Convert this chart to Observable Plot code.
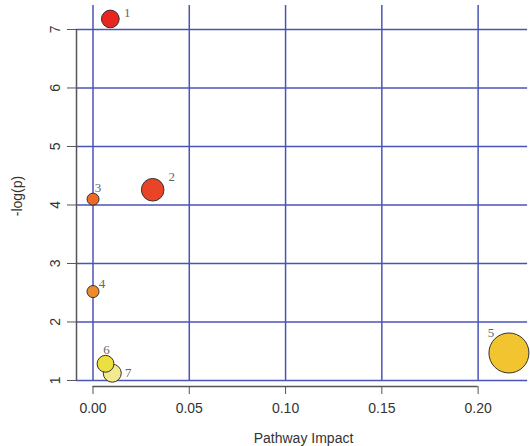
<!DOCTYPE html>
<html><head><meta charset="utf-8">
<script src="https://cdn.jsdelivr.net/npm/d3@7"></script>
<script src="https://cdn.jsdelivr.net/npm/@observablehq/plot@0.6"></script>
<style>body{margin:0;background:#fff}</style>
</head><body><div id="chart"></div>
<script>
// Data
const ids = ["1", "2", "3", "4", "5", "6", "7"];
const impact = [0.009, 0.031, 0.0, 0.0, 0.216, 0.0065, 0.010];
const negLogP = [7.18, 4.26, 4.10, 2.52, 1.47, 1.285, 1.125];
const colors = ["#e8261f", "#ea4428", "#ec6a26", "#ef8a2a", "#f2c530", "#ece040", "#f1ea8e"];
const xTicks = [0, 0.05, 0.10, 0.15, 0.20];
const yTicks = [1, 2, 3, 4, 5, 6, 7];

const data = ids.map((id, i) => ({id, impact: impact[i], p: negLogP[i], color: colors[i]}));

// label placement (style): offsets in px relative to point centre
const labelOffset = {"1": [17, -6], "2": [19, -13], "3": [5, -11], "4": [9, -8], "5": [-18, -20], "6": [1, -14], "7": [16, 0]};

const xMin = -0.00857, xMax = 0.2272, xGridEnd = 0.2257;
const yMin = 0.897, yMax = 7.41;
const grid = "#4a54b6";
const axisCol = "#555";

const labelMarks = ids.map(id => Plot.text(data.filter(d => d.id === id), {
  x: "impact", y: "p", text: "id",
  dx: labelOffset[id][0], dy: labelOffset[id][1],
  fill: "#666", fontFamily: "'Liberation Serif', 'DejaVu Serif', serif", fontSize: 13
}));

const chart = Plot.plot({
  width: 530, height: 446,
  marginLeft: 76, marginRight: 0, marginTop: 5, marginBottom: 60,
  style: {fontFamily: "'Liberation Sans', Arial, sans-serif", fontSize: "14px", color: "#333", background: "#fff"},
  x: {domain: [xMin, xMax]},
  y: {domain: [yMin, yMax]},
  r: {type: "sqrt", domain: [0, d3.max(impact)], range: [6, 20]},
  marks: [
    Plot.ruleY(yTicks, {x1: xMin, x2: xGridEnd, stroke: grid, strokeWidth: 1.5}),
    Plot.ruleX(xTicks, {y1: 1, y2: yMax, stroke: grid, strokeWidth: 1.5}),
    Plot.ruleX([xMin], {y1: 1, y2: 7, stroke: axisCol, strokeWidth: 1.5}),
    Plot.ruleY([yMin], {x1: 0, x2: 0.20, stroke: axisCol, strokeWidth: 1.5}),
    Plot.axisX({ticks: xTicks, tickFormat: d3.format(".2f"), tickSize: 8, tickPadding: 9, stroke: axisCol,
      label: "Pathway Impact", labelAnchor: "center", labelArrow: "none", labelOffset: 56}),
    Plot.axisY({ticks: yTicks, tickFormat: d3.format("d"), tickSize: 9, tickPadding: 8, tickRotate: -90, stroke: axisCol,
      label: "-log(p)", labelAnchor: "center", labelArrow: "none", labelOffset: 64}),
    Plot.dot(data, {x: "impact", y: "p", r: "impact", fill: "color", stroke: "#333", strokeWidth: 1}),
    ...labelMarks
  ]
});
document.getElementById("chart").append(chart);
</script>
</body></html>
